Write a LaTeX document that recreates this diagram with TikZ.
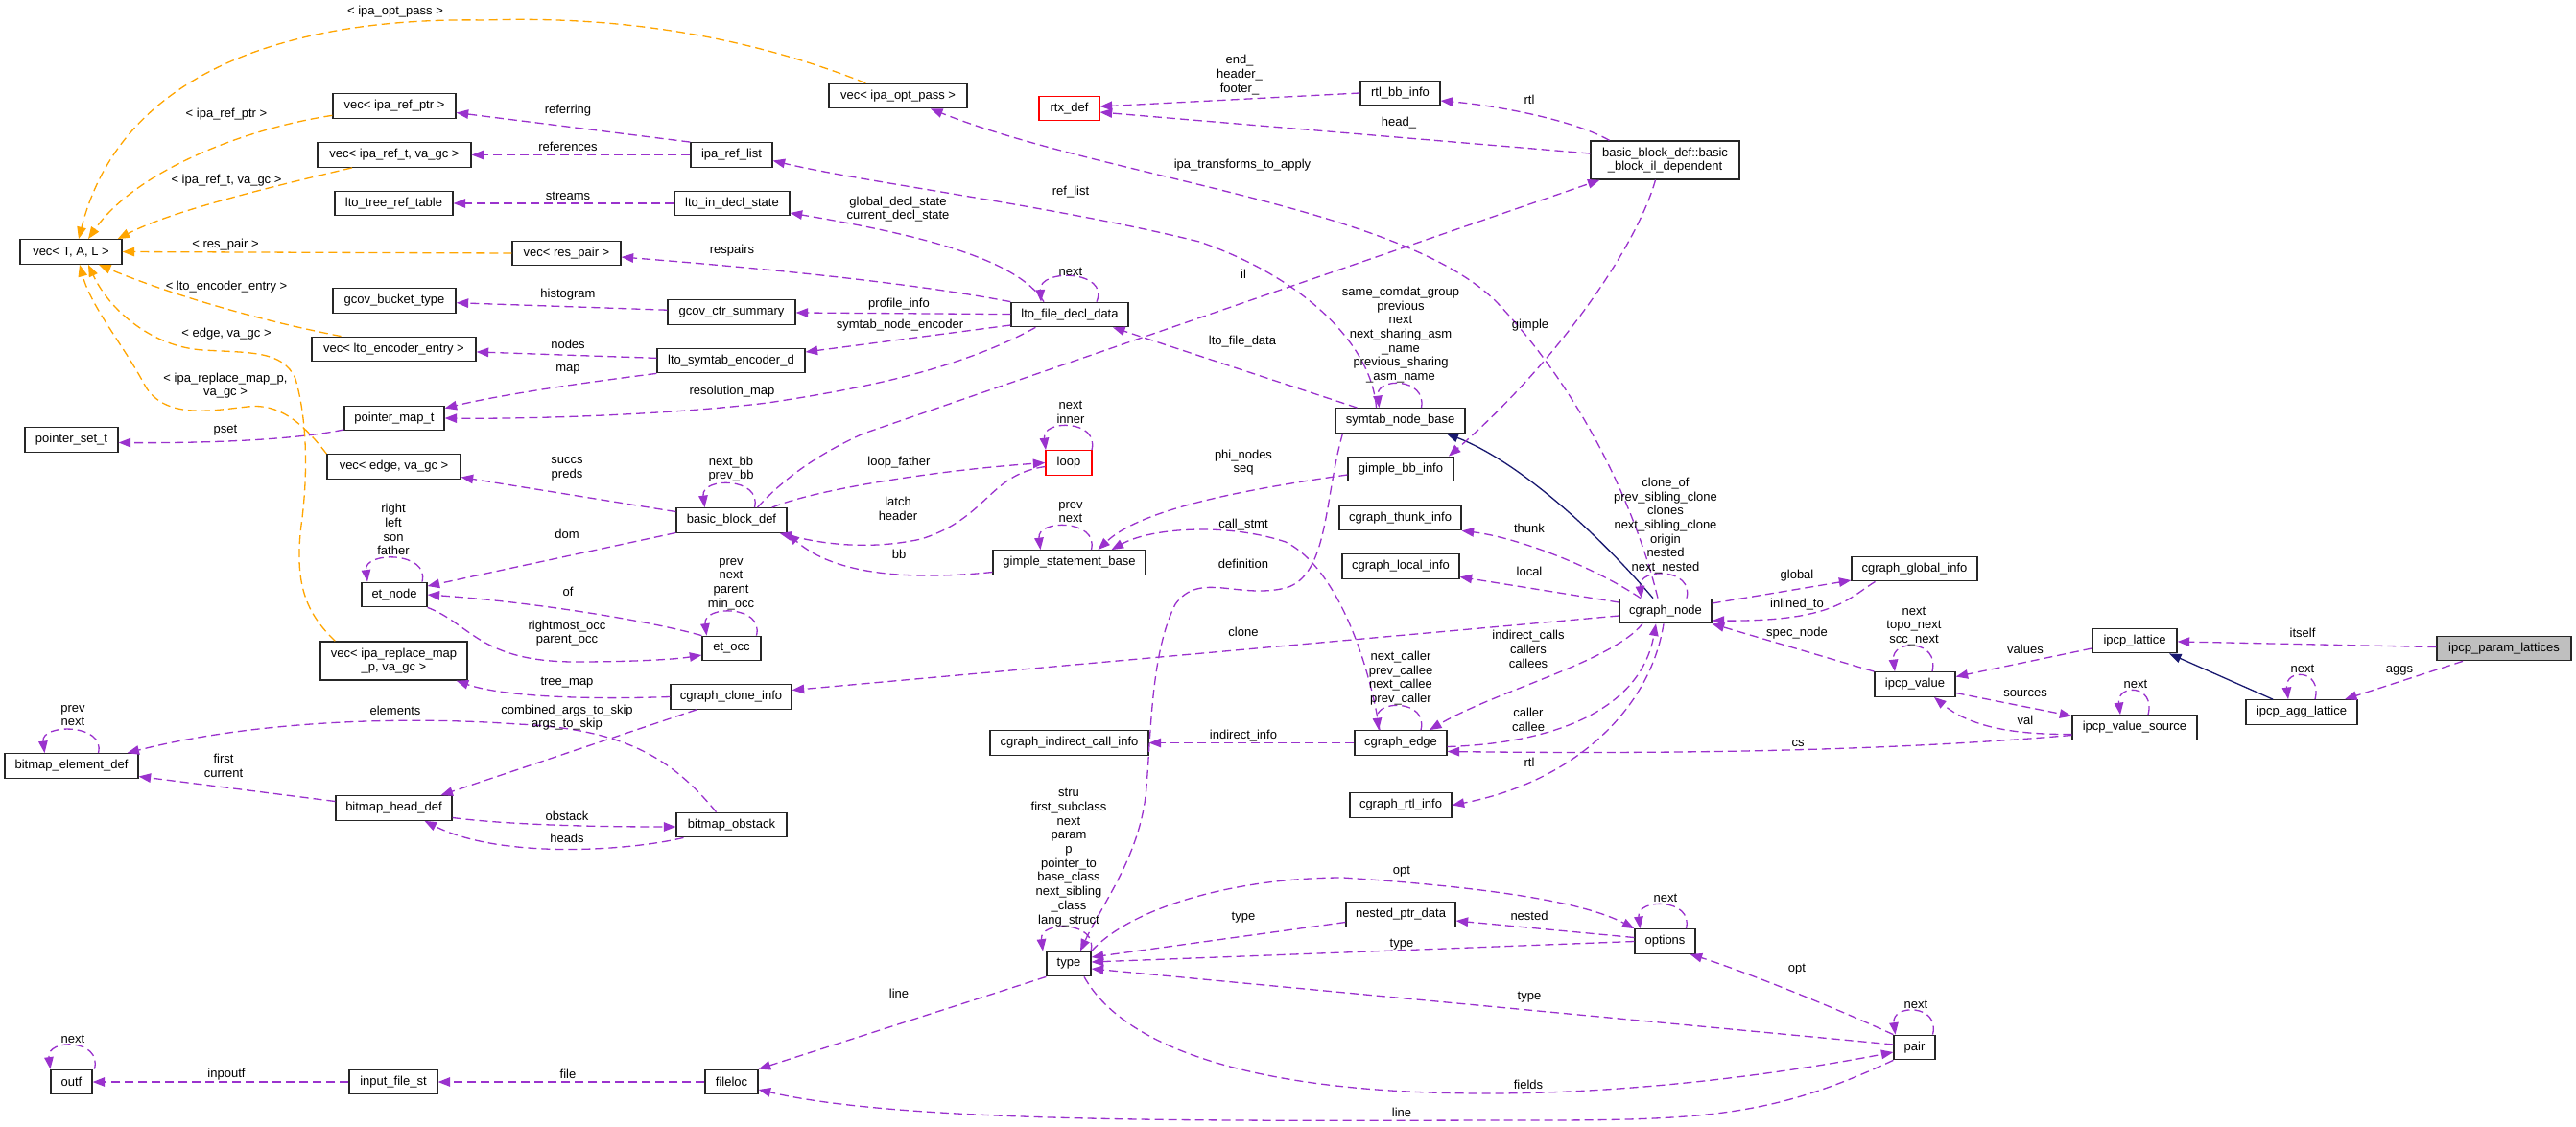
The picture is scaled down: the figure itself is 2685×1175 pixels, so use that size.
\documentclass[tikz,border=0pt]{standalone}
\usepackage{fontspec}
\setmainfont{Liberation Sans}
\usetikzlibrary{arrows.meta}
\definecolor{pc}{HTML}{9A32CD}
\definecolor{oc}{HTML}{FFA500}
\definecolor{nc}{HTML}{191970}
\definecolor{gf}{HTML}{BFBFBF}
\definecolor{rc}{HTML}{FF0000}
\definecolor{bc}{HTML}{262626}
\tikzset{
  box/.style={draw=bc, line width=1.3pt, fill=white, inner sep=0pt, minimum height=25.5pt, align=center},
  rbox/.style={box, draw=rc},
  gbox/.style={box, fill=gf},
  pedge/.style={draw=pc, line width=1.3pt, dash pattern=on 9pt off 5pt, -{Triangle[length=12.5pt,width=9.5pt]}},
  oedge/.style={draw=oc, line width=1.3pt, dash pattern=on 9pt off 5pt, -{Triangle[length=12.5pt,width=9.5pt]}},
  nedge/.style={draw=nc, line width=1.3pt, -{Triangle[length=12.5pt,width=9.5pt]}},
  lbl/.style={align=center, inner sep=0pt}
}
\begin{document}
\begin{tikzpicture}[x=1pt,y=-1pt,font=\fontsize{13}{14.7}\selectfont]
\useasboundingbox[fill=white] (0,0) rectangle (2685,1175);

% ---------- nodes ----------
\node[box,minimum width=106pt] (vtal) at (74,262.5) {vec< T, A, L >};
\node[box,minimum width=128pt] (viparefptr) at (411,110.5) {vec< ipa\_ref\_ptr >};
\node[box,minimum width=160pt] (vipareft) at (411,161.5) {vec< ipa\_ref\_t, va\_gc >};
\node[box,minimum width=123pt] (ltotree) at (410.5,212) {lto\_tree\_ref\_table};
\node[box,minimum width=113pt] (vrespair) at (590.5,264) {vec< res\_pair >};
\node[box,minimum width=128pt] (gcovbucket) at (411,313.5) {gcov\_bucket\_type};
\node[box,minimum width=171pt] (vltoenc) at (410.5,364) {vec< lto\_encoder\_entry >};
\node[box,minimum width=85pt] (ipareflist) at (762.5,161.5) {ipa\_ref\_list};
\node[box,minimum width=120pt] (ltoindecl) at (763,212) {lto\_in\_decl\_state};
\node[box,minimum width=133pt] (gcovctr) at (762.5,325.5) {gcov\_ctr\_summary};
\node[box,minimum width=154pt] (ltosymenc) at (762,376) {lto\_symtab\_encoder\_d};
\node[box,minimum width=144pt] (vipaopt) at (936,100) {vec< ipa\_opt\_pass >};
\node[rbox,minimum width=63pt] (rtxdef) at (1114.5,113) {rtx\_def};
\node[box,minimum width=83pt] (rtlbb) at (1459.5,97) {rtl\_bb\_info};
\node[box,minimum width=155pt,minimum height=40pt] (bbil) at (1735.5,167) {basic\_block\_def::basic\\\_block\_il\_dependent};
\node[box,minimum width=122pt] (ltofile) at (1115,328) {lto\_file\_decl\_data};
\node[box,minimum width=104pt] (pmap) at (411,436) {pointer\_map\_t};
\node[box,minimum width=97pt] (pset) at (74.5,458.5) {pointer\_set\_t};
\node[box,minimum width=139pt] (vedge) at (410.5,486.5) {vec< edge, va\_gc >};
\node[box,minimum width=115pt] (bbdef) at (762.5,542.5) {basic\_block\_def};
\node[box,minimum width=68pt] (etnode) at (411,620) {et\_node};
\node[box,minimum width=61pt] (etocc) at (762.5,676) {et\_occ};
\node[box,minimum width=153pt,minimum height=40pt] (vrepl) at (410.5,689) {vec< ipa\_replace\_map\\\_p, va\_gc >};
\node[box,minimum width=126pt] (clone) at (762,726.5) {cgraph\_clone\_info};
\node[box,minimum width=139pt] (belem) at (74.5,798.5) {bitmap\_element\_def};
\node[box,minimum width=121pt] (bhead) at (410.5,842.5) {bitmap\_head\_def};
\node[box,minimum width=115pt] (bobst) at (762.5,860) {bitmap\_obstack};
\node[box,minimum width=43pt] (outf) at (74.5,1128) {outf};
\node[box,minimum width=92pt] (infile) at (410,1128) {input\_file\_st};
\node[box,minimum width=55pt] (fileloc) at (762.5,1128) {fileloc};
\node[rbox,minimum width=48pt] (loop) at (1114,482.5) {loop};
\node[box,minimum width=159pt] (gsb) at (1114.5,586.5) {gimple\_statement\_base};
\node[box,minimum width=135pt] (symtab) at (1459.5,438.5) {symtab\_node\_base};
\node[box,minimum width=110pt] (gbb) at (1460,489) {gimple\_bb\_info};
\node[box,minimum width=127pt] (thunk) at (1459.5,540) {cgraph\_thunk\_info};
\node[box,minimum width=122pt] (local) at (1460,590.5) {cgraph\_local\_info};
\node[box,minimum width=165pt] (indcall) at (1114.5,774.5) {cgraph\_indirect\_call\_info};
\node[box,minimum width=96pt] (cedge) at (1460,774.5) {cgraph\_edge};
\node[box,minimum width=96pt] (cnode) at (1736,637) {cgraph\_node};
\node[box,minimum width=131pt] (global) at (1995.5,593) {cgraph\_global\_info};
\node[box,minimum width=84pt] (ival) at (1996,713.5) {ipcp\_value};
\node[box,minimum width=88pt] (ilat) at (2225,668) {ipcp\_lattice};
\node[box,minimum width=130pt] (ivsrc) at (2225,758.5) {ipcp\_value\_source};
\node[box,minimum width=116pt] (iagg) at (2399,742.5) {ipcp\_agg\_lattice};
\node[gbox,minimum width=140pt] (iparam) at (2610,676) {ipcp\_param\_lattices};
\node[box,minimum width=106pt] (rtlinfo) at (1460,839.5) {cgraph\_rtl\_info};
\node[box,minimum width=114pt] (nested) at (1460,953.5) {nested\_ptr\_data};
\node[box,minimum width=63pt] (options) at (1735.5,981.5) {options};
\node[box,minimum width=46pt] (type) at (1114,1005) {type};
\node[box,minimum width=43pt] (pair) at (1995.5,1092) {pair};

% ---------- orange template edges ----------
\draw[oedge] (vipaopt) .. controls (760,30) and (620,17) .. (505,21) .. controls (330,18) and (130,60) .. ([xshift=8pt]vtal.north);
\draw[oedge] (viparefptr) .. controls (250,135) and (140,180) .. ([xshift=18pt]vtal.north);
\draw[oedge] ([xshift=-44pt]vipareft.south) .. controls (260,200) and (175,222) .. ([xshift=-5pt]vtal.north east);
\draw[oedge] (vrespair.west) -- (vtal.east);
\draw[oedge] ([xshift=-55pt]vltoenc.north) .. controls (250,330) and (160,300) .. ([xshift=29pt]vtal.south);
\draw[oedge] (vedge.north west) .. controls (315,440) and (290,420) .. (258,424) .. controls (220,428) and (170,438) .. (150,400) .. controls (130,362) and (95,320) .. ([xshift=9pt]vtal.south);
\draw[oedge] ([xshift=16pt]vrepl.north west) .. controls (320,640) and (305,610) .. (315,540) .. controls (322,480) and (318,430) .. (308,395) .. controls (295,365) and (260,368) .. (212,365) .. controls (160,362) and (115,325) .. ([xshift=18pt]vtal.south);

% ---------- navy inheritance edges ----------
\draw[nedge] ([xshift=-13pt]cnode.north) .. controls (1660,550) and (1580,480) .. ([xshift=48pt]symtab.south);
\draw[nedge] ([xshift=-30pt]iagg.north) -- ([xshift=36pt]ilat.south);

% ---------- purple usage edges ----------
\draw[pedge] (ipareflist.north west) -- ([yshift=-7pt]viparefptr.east);
\draw[pedge] (ipareflist) -- (vipareft);
\draw[pedge] (ltoindecl) -- (ltotree);
\draw[pedge] (ltofile.north west) .. controls (950,295) and (800,280) .. ([yshift=-4pt]vrespair.east);
\draw[pedge] (gcovctr) -- (gcovbucket);
\draw[pedge] (ltosymenc) -- (vltoenc);
\draw[pedge] (ltosymenc.south west) .. controls (600,400) and (520,412) .. ([yshift=-3pt]pmap.north east);
\draw[pedge] ([xshift=26pt]ltofile.south west) .. controls (1000,385) and (900,405) .. (800,420) .. controls (700,432) and (560,437) .. (pmap.east);
\draw[pedge] ([xshift=-25pt]symtab.north) .. controls (1430,360) and (1360,290) .. (1250,252) .. controls (1100,215) and (900,190) .. ([yshift=-6pt]ipareflist.east);
\draw[pedge] ([xshift=-27pt]ltofile.north) .. controls (1060,270) and (960,245) .. ([yshift=-10pt]ltoindecl.east);
\draw[pedge] (ltofile) -- (gcovctr);
\draw[pedge] ([yshift=-11pt]ltofile.west) -- ([yshift=9pt]ltosymenc.east);
\draw[pedge] ([xshift=28pt]ltofile.north) .. controls +(14,-33) and +(-2,-35) .. ([xshift=-30pt]ltofile.north);
\draw[pedge] (rtlbb.west) -- ([yshift=2pt]rtxdef.east);
\draw[pedge] ([yshift=7pt]bbil.west) -- ([yshift=-4pt]rtxdef.east);
\draw[pedge] ([xshift=-58pt]bbil.north) .. controls (1640,125) and (1560,110) .. ([yshift=-8pt]rtlbb.east);
\draw[pedge] ([xshift=-8pt]cnode.north) .. controls (1705,530) and (1650,410) .. (1560,315) .. controls (1460,215) and (1150,185) .. ([xshift=34pt]vipaopt.south);
\draw[pedge] ([xshift=27pt]bbdef.north) .. controls (820,495) and (860,470) .. (900,452) -- ([xshift=-68pt]bbil.south);
\draw[pedge] ([xshift=-10pt]bbil.south) .. controls (1705,260) and (1620,380) .. ([xshift=50pt]gbb.north);
\draw[pedge] ([xshift=-45pt]symtab.north) -- ([xshift=45pt]ltofile.south);
\draw[pedge] ([xshift=22pt]symtab.north) .. controls +(6,-32) and +(-4,-32) .. ([xshift=-22pt]symtab.north);
\draw[pedge] ([yshift=-12pt]pmap.west) .. controls (300,460) and (200,462) .. ([yshift=-3pt]pset.east);
\draw[pedge] ([yshift=9pt]bbdef.west) -- ([yshift=-11pt]vedge.east);
\draw[pedge] ([xshift=24pt]bbdef.north) .. controls +(8,-32) and +(-4,-32) .. ([xshift=-28pt]bbdef.north);
\draw[pedge] ([yshift=-13pt]bbdef.west) -- ([yshift=9pt]etnode.east);
\draw[pedge] ([xshift=29pt]etnode.north) .. controls +(8,-32) and +(-4,-32) .. ([xshift=-28pt]etnode.north);
\draw[pedge] (etocc.north west) .. controls (680,648) and (560,628) .. (etnode.east);
\draw[pedge] (etnode.south east) .. controls (490,650) and (500,690) .. (600,690) .. controls (650,690) and (700,688) .. ([yshift=-7pt]etocc.west);
\draw[pedge] ([xshift=26pt]etocc.north) .. controls +(8,-32) and +(-4,-32) .. ([xshift=-26pt]etocc.north);
\draw[pedge] (clone.west) .. controls (600,730) and (520,725) .. ([xshift=-12pt]vrepl.south east);
\draw[pedge] ([yshift=-5pt]cnode.west) -- ([yshift=7pt]clone.east);
\draw[pedge] ([xshift=28pt]belem.north) .. controls +(8,-31) and +(-4,-31) .. ([xshift=-28pt]belem.north);
\draw[pedge] ([xshift=-16pt]bobst.north) .. controls (700,790) and (650,760) .. (540,755) .. controls (400,745) and (250,755) .. ([xshift=58pt]belem.north);
\draw[pedge] ([xshift=-36pt]clone.south) -- ([xshift=49pt]bhead.north);
\draw[pedge] ([yshift=7pt]bhead.west) -- ([yshift=-11pt]belem.east);
\draw[pedge] ([yshift=-10pt]bhead.east) .. controls (530,860) and (620,862) .. ([yshift=-2pt]bobst.west);
\draw[pedge] ([xshift=-50pt]bobst.south) .. controls (650,888) and (520,895) .. ([xshift=32pt]bhead.south);
\draw[pedge] ([xshift=24pt]outf.north) .. controls +(8,-32) and +(-4,-32) .. ([xshift=-22pt]outf.north);
\draw[pedge] (infile) -- (outf);
\draw[pedge] (fileloc) -- (infile);
\draw[pedge] (type.south west) -- (fileloc.north east);
\draw[pedge] (pair.south west) .. controls (1850,1163) and (1780,1168) .. (1600,1168) .. controls (1300,1168) and (950,1173) .. ([yshift=-8pt]fileloc.east);
\draw[pedge] ([xshift=-16pt]bbdef.north east) .. controls (850,510) and (980,490) .. (loop.west);
\draw[pedge] ([yshift=-4pt]loop.west) .. controls (1030,495) and (1030,540) .. (960,562) .. controls (900,575) and (850,565) .. ([xshift=-8pt]bbdef.south east);
\draw[pedge] ([yshift=-10pt]gsb.west) .. controls (950,605) and (870,600) .. (bbdef.south east);
\draw[pedge] ([xshift=24pt]loop.north) .. controls +(8,-32) and +(-4,-32) .. ([xshift=-24pt]loop.north);
\draw[pedge] ([xshift=23pt]gsb.north) .. controls +(8,-32) and +(-4,-32) .. ([xshift=-30pt]gsb.north);
\draw[pedge] ([yshift=-6pt]gbb.west) .. controls (1300,510) and (1190,530) .. ([xshift=30pt]gsb.north);
\draw[pedge] ([xshift=-22pt]cedge.north) .. controls (1425,680) and (1390,590) .. (1340,565) .. controls (1280,545) and (1200,550) .. ([xshift=44pt]gsb.north);
\draw[pedge] ([xshift=-60pt]symtab.south) .. controls (1380,520) and (1385,600) .. (1340,613) .. controls (1290,625) and (1250,595) .. (1225,630) .. controls (1200,680) and (1200,760) .. (1195,820) .. controls (1190,890) and (1150,940) .. ([xshift=12pt]type.north);
\draw[pedge] ([xshift=-26pt]cnode.north) .. controls (1660,590) and (1580,560) .. (thunk.south east);
\draw[pedge] ([yshift=9pt]cnode.west) -- ([yshift=-11pt]local.east);
\draw[pedge] ([xshift=22pt]cnode.north) .. controls +(8,-32) and +(-4,-32) .. ([xshift=-25pt]cnode.north);
\draw[pedge] ([xshift=-24pt]cnode.south) .. controls (1680,690) and (1560,720) .. ([xshift=30pt]cedge.north);
\draw[pedge] ([yshift=-4pt]cedge.east) .. controls (1620,775) and (1710,740) .. ([xshift=-10pt]cnode.south);
\draw[pedge] ([xshift=-2pt]cnode.south) .. controls (1720,740) and (1640,815) .. (rtlinfo.east);
\draw[pedge] (cedge) -- (indcall);
\draw[pedge] ([xshift=21pt]cedge.north) .. controls +(8,-32) and +(-4,-32) .. ([xshift=-23pt]cedge.north);
\draw[pedge] ([yshift=-8pt]ivsrc.west) .. controls (2000,780) and (1800,787) .. ([yshift=-9pt]cedge.east);
\draw[pedge] ([yshift=8pt]cnode.east) -- ([yshift=-12pt]global.west);
\draw[pedge] ([xshift=-41pt]global.south) .. controls (1925,625) and (1910,648) .. ([yshift=-10pt]cnode.east);
\draw[pedge] (ival.north west) -- (cnode.south east);
\draw[pedge] ([xshift=18pt]ival.north) .. controls +(8,-34) and +(-4,-34) .. ([xshift=-21pt]ival.north);
\draw[pedge] ([yshift=-8pt]ilat.west) -- ([yshift=8pt]ival.east);
\draw[pedge] ([yshift=-9pt]ival.east) -- ([yshift=12pt]ivsrc.west);
\draw[pedge] ([yshift=-7pt]ivsrc.west) .. controls (2090,766) and (2050,755) .. ([xshift=20pt]ival.south);
\draw[pedge] ([xshift=14pt]ivsrc.north) .. controls +(8,-32) and +(-4,-32) .. ([xshift=-15pt]ivsrc.north);
\draw[pedge] (iparam) -- (ilat);
\draw[pedge] ([xshift=-43pt]iparam.south) -- ([xshift=45pt]iagg.north);
\draw[pedge] ([xshift=14pt]iagg.north) .. controls +(8,-32) and +(-4,-32) .. ([xshift=-14pt]iagg.north);
\draw[pedge] ([xshift=23pt]type.north) .. controls +(8,-32) and +(-4,-32) .. ([xshift=-27pt]type.north);
\draw[pedge] (type.north east) .. controls (1180,945) and (1290,915) .. (1400,915) .. controls (1550,925) and (1650,940) .. (options.north west);
\draw[pedge] ([yshift=-8pt]nested.west) -- ([yshift=7pt]type.east);
\draw[pedge] ([yshift=4pt]options.west) -- ([yshift=-6.5pt]nested.east);
\draw[pedge] (options.west) -- ([yshift=2pt]type.east);
\draw[pedge] ([xshift=22pt]options.north) .. controls +(8,-32) and +(-4,-32) .. ([xshift=-26pt]options.north);
\draw[pedge] (pair.north west) .. controls (1900,1045) and (1810,1010) .. ([xshift=-6pt]options.south east);
\draw[pedge] ([yshift=3pt]pair.west) -- ([yshift=-5pt]type.east);
\draw[pedge] ([xshift=16pt]type.south) .. controls (1170,1090) and (1300,1140) .. (1550,1140) .. controls (1720,1140) and (1880,1115) .. ([yshift=-5pt]pair.west);
\draw[pedge] ([xshift=19pt]pair.north) .. controls +(8,-32) and +(-4,-32) .. ([xshift=-20pt]pair.north);

% ---------- edge labels ----------
\node[lbl] (t01) at (412,12) {< ipa\_opt\_pass >};
\node[lbl] (t02) at (236,119) {< ipa\_ref\_ptr >};
\node[lbl] (t03) at (236,188) {< ipa\_ref\_t, va\_gc >};
\node[lbl] (t04) at (235,255) {< res\_pair >};
\node[lbl] (t05) at (236,299) {< lto\_encoder\_entry >};
\node[lbl] (t06) at (236,348) {< edge, va\_gc >};
\node[lbl] (t07) at (235,402) {< ipa\_replace\_map\_p,\\va\_gc >};
\node[lbl] (t08) at (592,115) {referring};
\node[lbl] (t09) at (592,153) {references};
\node[lbl] (t10) at (592,204) {streams};
\node[lbl] (t11) at (763,261) {respairs};
\node[lbl] (t12) at (592,307) {histogram};
\node[lbl] (t13) at (592,359) {nodes};
\node[lbl] (t14) at (592,385) {map};
\node[lbl] (t15) at (763,408) {resolution\_map};
\node[lbl] (t16) at (1116,200) {ref\_list};
\node[lbl] (t17) at (936,218) {global\_decl\_state\\current\_decl\_state};
\node[lbl] (t18) at (937,317) {profile\_info};
\node[lbl] (t19) at (938,339) {symtab\_node\_encoder};
\node[lbl] (t20) at (1116,283) {next};
\node[lbl] (t21) at (1292,78) {end\_\\header\_\\footer\_};
\node[lbl] (t22) at (1458,128) {head\_};
\node[lbl] (t23) at (1594,104) {rtl};
\node[lbl] (t24) at (1295,172) {ipa\_transforms\_to\_apply};
\node[lbl] (t25) at (1296,286) {il};
\node[lbl] (t26) at (1595,339) {gimple};
\node[lbl] (t27) at (1295,356) {lto\_file\_data};
\node[lbl] (t28) at (1460,349) {same\_comdat\_group\\previous\\next\\next\_sharing\_asm\\\_name\\previous\_sharing\\\_asm\_name};
\node[lbl] (t29) at (235,449) {pset};
\node[lbl] (t30) at (591,489) {succs\\preds};
\node[lbl] (t31) at (762,489) {next\_bb\\prev\_bb};
\node[lbl] (t32) at (591,557) {dom};
\node[lbl] (t33) at (410,552) {right\\left\\son\\father};
\node[lbl] (t34) at (592,617) {of};
\node[lbl] (t35) at (591,660) {rightmost\_occ\\parent\_occ};
\node[lbl] (t36) at (762,609) {prev\\next\\parent\\min\_occ};
\node[lbl] (t37) at (591,712) {tree\_map};
\node[lbl] (t38) at (1296,659) {clone};
\node[lbl] (t39) at (76,746) {prev\\next};
\node[lbl] (t40) at (412,741) {elements};
\node[lbl] (t41) at (591,748) {combined\_args\_to\_skip\\args\_to\_skip};
\node[lbl] (t42) at (233,798) {first\\current};
\node[lbl] (t43) at (591,851) {obstack};
\node[lbl] (t44) at (591,874) {heads};
\node[lbl] (t45) at (76,1083) {next};
\node[lbl] (t46) at (236,1120) {inpoutf};
\node[lbl] (t47) at (592,1120) {file};
\node[lbl] (t48) at (937,1036) {line};
\node[lbl] (t49) at (1461,1160) {line};
\node[lbl] (t50) at (937,482) {loop\_father};
\node[lbl] (t51) at (936,530) {latch\\header};
\node[lbl] (t52) at (937,578) {bb};
\node[lbl] (t53) at (1116,430) {next\\inner};
\node[lbl] (t54) at (1116,534) {prev\\next};
\node[lbl] (t55) at (1296,482) {phi\_nodes\\seq};
\node[lbl] (t56) at (1296,547) {call\_stmt};
\node[lbl] (t57) at (1296,588) {definition};
\node[lbl] (t58) at (1594,551) {thunk};
\node[lbl] (t59) at (1594,596) {local};
\node[lbl] (t60) at (1736,548) {clone\_of\\prev\_sibling\_clone\\clones\\next\_sibling\_clone\\origin\\nested\\next\_nested};
\node[lbl] (t61) at (1593,677) {indirect\_calls\\callers\\callees};
\node[lbl] (t62) at (1593,750) {caller\\callee};
\node[lbl] (t63) at (1594,795) {rtl};
\node[lbl] (t64) at (1296,767) {indirect\_info};
\node[lbl] (t65) at (1460,707) {next\_caller\\prev\_callee\\next\_callee\\prev\_caller};
\node[lbl] (t66) at (1874,775) {cs};
\node[lbl] (t67) at (1873,600) {global};
\node[lbl] (t68) at (1873,630) {inlined\_to};
\node[lbl] (t69) at (1873,660) {spec\_node};
\node[lbl] (t70) at (1995,653) {next\\topo\_next\\scc\_next};
\node[lbl] (t71) at (2111,677) {values};
\node[lbl] (t72) at (2111,723) {sources};
\node[lbl] (t73) at (2111,751) {val};
\node[lbl] (t74) at (2226,713) {next};
\node[lbl] (t75) at (2400,660) {itself};
\node[lbl] (t76) at (2501,699) {aggs};
\node[lbl] (t77) at (2400,697) {next};
\node[lbl] (t78) at (1114,894) {stru\\first\_subclass\\next\\param\\p\\pointer\_to\\base\_class\\next\_sibling\\\_class\\lang\_struct};
\node[lbl] (t79) at (1461,909) {opt};
\node[lbl] (t80) at (1296,957) {type};
\node[lbl] (t81) at (1594,955) {nested};
\node[lbl] (t82) at (1461,985) {type};
\node[lbl] (t83) at (1736,936) {next};
\node[lbl] (t84) at (1873,1011) {opt};
\node[lbl] (t85) at (1594,1040) {type};
\node[lbl] (t86) at (1593,1131) {fields};
\node[lbl] (t87) at (1997,1047) {next};
\end{tikzpicture}
\end{document}
